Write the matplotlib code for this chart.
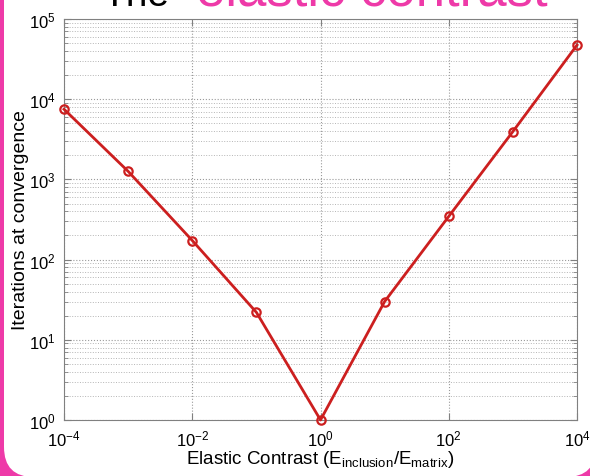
import matplotlib.pyplot as plt
from matplotlib.patches import FancyBboxPatch
from matplotlib.ticker import LogLocator, NullLocator

plt.rcParams['font.family'] = ['Liberation Sans', 'DejaVu Sans']
plt.rcParams['mathtext.default'] = 'regular'
plt.rcParams['axes.unicode_minus'] = False

# elastic contrast vs iterations needed to converge
contrast = [1e-4, 1e-3, 1e-2, 1e-1, 1e0, 1e1, 1e2, 1e3, 1e4]
iterations = [7500, 1260, 173, 22, 1, 30, 346, 3950, 47300]
xtick_vals = [1e-4, 1e-2, 1e0, 1e2, 1e4]

pink = '#ee3aa8'
red = '#cc1f1f'

fig = plt.figure(figsize=(5.9, 4.77), dpi=100)
fig.patch.set_facecolor(pink)

# white slide panel with rounded corners
panel = FancyBboxPatch((0.04, -0.01), 5.92, 6.0,
                       boxstyle='round,pad=0,rounding_size=0.3',
                       transform=fig.dpi_scale_trans,
                       facecolor='white', edgecolor='none', zorder=-5)
fig.patches.append(panel)

# title, mostly cut off by the top edge
fig.text(0.173, 0.988, 'The', fontsize=28, color='black', va='baseline')
fig.text(0.332, 0.988, 'elastic contrast', fontsize=38, color=pink, va='baseline')

ax = fig.add_axes([0.1085, 0.1174, 0.8695, 0.8407])
ax.set_xscale('log')
ax.set_yscale('log')
ax.plot(contrast, iterations, color=red, lw=2, marker='o', ms=6,
        mfc='none', mec=red, mew=1.6, clip_on=False, zorder=3)

ax.set_xlim(1e-4, 1e4)
ax.set_ylim(1, 1e5)
ax.set_xticks(xtick_vals)
ax.xaxis.set_minor_locator(NullLocator())
ax.yaxis.set_major_locator(LogLocator(base=10, numticks=10))
ax.yaxis.set_minor_locator(LogLocator(base=10, subs=range(2, 10), numticks=20))

ax.grid(True, which='major', axis='both', ls=':', color='#9a9a9a', lw=0.8)
ax.grid(True, which='minor', axis='y', ls=':', color='#b5b5b5', lw=0.7)

ax.tick_params(which='both', direction='in', top=True, right=True,
               colors='#808080', labelcolor='black', labelsize=12)
ax.tick_params(which='major', length=5, pad=6)
ax.tick_params(which='minor', length=3)
for s in ax.spines.values():
    s.set_color('#808080')

ax.set_xlabel('Elastic Contrast (E$_{inclusion}$/E$_{matrix}$)', fontsize=13.5, labelpad=0)
ax.set_ylabel('Iterations at convergence', fontsize=14, labelpad=0)

fig.savefig('out.png', dpi=100, facecolor=fig.get_facecolor())
